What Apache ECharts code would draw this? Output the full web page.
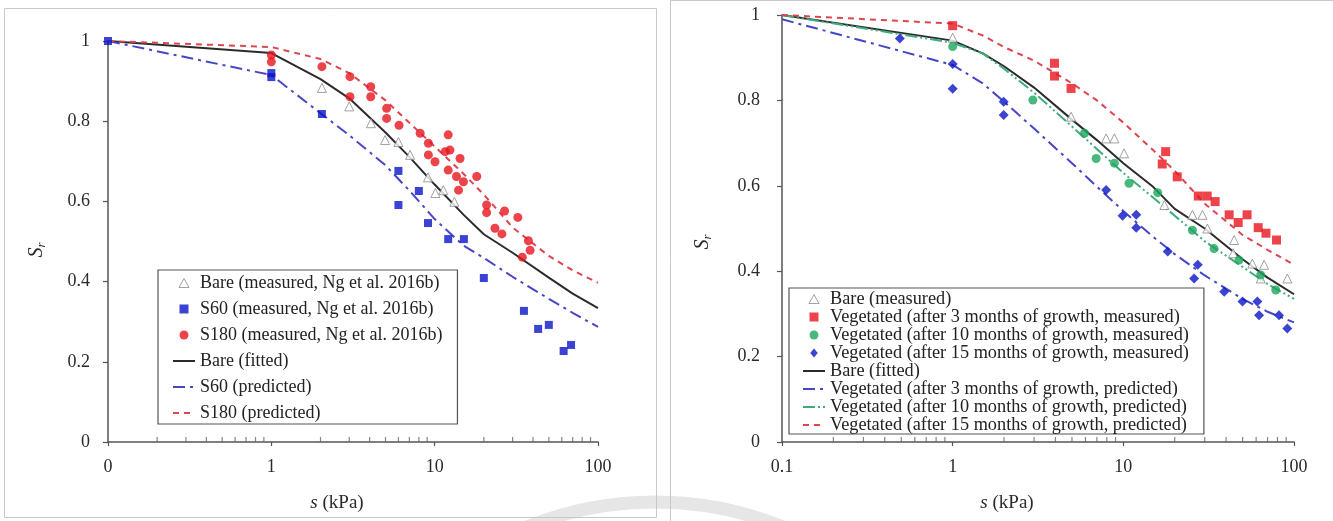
<!DOCTYPE html>
<html><head><meta charset="utf-8">
<script src="https://cdn.jsdelivr.net/npm/echarts/dist/echarts.min.js"></script>
<style>html,body{margin:0;padding:0;background:#fff}#c{width:1333px;height:521px}</style>
</head><body><div id="c"></div>
<script>
// ---------- LEFT PANEL DATA ----------
const L_LINE_S     = [0.1, 1, 2, 3, 5, 7, 10, 15, 20, 30, 50, 70, 100];
const L_BARE_FIT   = [1.0, 0.97, 0.905, 0.857, 0.772, 0.711, 0.642, 0.567, 0.518, 0.472, 0.41, 0.37, 0.334];
const L_S60_PRED   = [1.0, 0.915, 0.82, 0.765, 0.69, 0.627, 0.556, 0.49, 0.459, 0.412, 0.357, 0.322, 0.287];
const L_S180_PRED  = [1.0, 0.985, 0.955, 0.92, 0.852, 0.796, 0.737, 0.669, 0.617, 0.535, 0.464, 0.428, 0.397];

const L_BARE_S = [2.04, 3.0, 4.07, 4.97, 6.0, 7.07, 9.1, 10.1, 11.3, 13.2];
const L_BARE_V = [0.883, 0.837, 0.795, 0.753, 0.748, 0.716, 0.66, 0.621, 0.628, 0.599];

const L_S60_S = [0.1, 1, 1, 2.04, 6.0, 8.0, 6.0, 9.1, 12.1, 15.1, 20, 35.2, 43, 50, 61.6, 68.4];
const L_S60_V = [1.0, 0.92, 0.91, 0.818, 0.676, 0.626, 0.591, 0.546, 0.506, 0.506, 0.409, 0.327, 0.282, 0.292, 0.227, 0.242];

const L_S180_S = [1, 1, 2.04, 3.03, 3.03, 4.06, 4.06, 5.08, 5.08, 6.05, 8.15, 9.15, 12.1, 9.15, 10.05, 11.6, 12.4, 14.3, 12.1, 13.6, 15.0, 14.0, 18.1, 20.8, 20.8, 26.8, 32.3, 23.4, 25.8, 37.5, 38.4, 34.4];
const L_S180_V = [0.965, 0.948, 0.936, 0.911, 0.861, 0.886, 0.861, 0.832, 0.807, 0.790, 0.770, 0.745, 0.766, 0.716, 0.699, 0.724, 0.728, 0.707, 0.678, 0.662, 0.649, 0.628, 0.662, 0.591, 0.572, 0.576, 0.560, 0.533, 0.519, 0.502, 0.478, 0.461];

// ---------- RIGHT PANEL DATA ----------
const R_LINE_S    = [0.1, 1, 1.5, 2, 3, 5, 7, 10, 15, 20, 30, 50, 70, 100];
const R_BARE_FIT  = [1.0, 0.94, 0.91, 0.88, 0.83, 0.755, 0.707, 0.653, 0.597, 0.546, 0.50, 0.428, 0.385, 0.346];
const R_V3_PRED   = [0.99, 0.883, 0.84, 0.797, 0.734, 0.653, 0.598, 0.541, 0.48, 0.44, 0.39, 0.335, 0.305, 0.28];
const R_V10_PRED  = [1.0, 0.935, 0.91, 0.874, 0.818, 0.739, 0.686, 0.63, 0.572, 0.53, 0.47, 0.41, 0.37, 0.335];
const R_V15_PRED  = [1.0, 0.98, 0.952, 0.925, 0.893, 0.84, 0.8, 0.748, 0.683, 0.635, 0.558, 0.485, 0.45, 0.415];

const R_BARE_S = [1, 4.94, 7.93, 8.86, 10.1, 17.4, 25.4, 29.1, 31.1, 44.6, 44, 57, 66.8, 63.8, 91.4];
const R_BARE_V = [0.947, 0.762, 0.711, 0.711, 0.676, 0.555, 0.532, 0.532, 0.5, 0.473, 0.442, 0.418, 0.415, 0.383, 0.383];

const R_V3_S = [1, 3.95, 3.95, 4.94, 17.7, 16.9, 20.7, 27.5, 31, 34.5, 41.7, 47.1, 53.1, 61.7, 68.5, 79];
const R_V3_V = [0.975, 0.887, 0.857, 0.828, 0.680, 0.651, 0.621, 0.576, 0.576, 0.563, 0.532, 0.514, 0.532, 0.502, 0.489, 0.473];

const R_V10_S = [1, 2.95, 5.92, 6.93, 8.86, 10.8, 15.9, 25.4, 34, 47.6, 63.8, 78.2];
const R_V10_V = [0.926, 0.801, 0.723, 0.664, 0.653, 0.606, 0.584, 0.496, 0.453, 0.426, 0.391, 0.356];

const R_V15_S = [0.49, 1, 1, 1.99, 1.99, 7.93, 9.9, 11.9, 11.9, 18.2, 27.3, 26, 39, 49.9, 61, 62.4, 81.7, 91.4];
const R_V15_V = [0.945, 0.885, 0.827, 0.797, 0.766, 0.59, 0.53, 0.532, 0.502, 0.446, 0.415, 0.383, 0.352, 0.329, 0.329, 0.297, 0.297, 0.266];

// axis ticks
const Y_TICKS_INTERVAL = 0.2;
const MINOR_TICKS = [0.2,0.3,0.4,0.5,0.6,0.7,0.8,0.9,2,3,4,5,6,7,8,9,20,30,40,50,60,70,80,90];

// names
const L_NAMES = ['Bare (measured, Ng et al. 2016b)','S60 (measured, Ng et al. 2016b)','S180 (measured, Ng et al. 2016b)','Bare (fitted)','S60 (predicted)','S180 (predicted)'];
const R_NAMES = ['Bare (measured)','Vegetated (after 3 months of growth, measured)','Vegetated (after 10 months of growth, measured)','Vegetated (after 15 months of growth, measured)','Bare (fitted) ','Vegetated (after 3 months of growth, predicted)','Vegetated (after 10 months of growth, predicted)','Vegetated (after 15 months of growth, predicted)'];

// ---------- STYLE ----------
const FONT = "'Liberation Serif','Times New Roman',serif";
const C_RED = '#e8141e', C_BLUE = '#0a14c8', C_GREEN = '#1ba65c', C_TRI = '#8a8a8a';
const C_LBLUE = '#4646c8', C_LRED = '#dc4650', C_LGREEN = '#3cac78', C_BLACK = '#2b2b2b';
const ICON_TRI = 'path://M5,0L10,9L0,9Z';
const ICON_SQ = 'path://M0,0L10,0L10,10L0,10Z';
const ICON_CIR = 'path://M10,5A5,5,0,1,1,0,5A5,5,0,1,1,10,5Z';
const ICON_DIA = 'path://M5,0L10,6L5,12L0,6Z';
const zip = (xs, ys) => xs.map((x, i) => [x, ys[i]]);

const chart = echarts.init(document.getElementById('c'), null, {renderer: 'canvas'});

function xAxisDef(grid, zeroLabel) {
  return {
    type: 'log', logBase: 10, min: 0.1, max: 100, gridIndex: grid,
    axisLine: {show: true, onZero: false, lineStyle: {color: '#555', width: 1.5}},
    axisTick: {show: true, length: 4, lineStyle: {color: '#555', width: 1.2}},
    minorTick: {show: false},
    splitLine: {show: false},
    axisLabel: {fontFamily: FONT, fontSize: 18, color: '#2a2a2a', margin: 16,
      formatter: v => { const r = +(+v).toPrecision(6); return (zeroLabel && r === 0.1) ? '0' : String(r); }}
  };
}
function yAxisDef(grid, margin) {
  return {
    type: 'value', min: 0, max: 1, interval: Y_TICKS_INTERVAL, gridIndex: grid,
    axisLine: {show: true, lineStyle: {color: '#555', width: 1.5}},
    axisTick: {show: true, length: 5, lineStyle: {color: '#555', width: 1.2}},
    splitLine: {show: false},
    axisLabel: {fontFamily: FONT, fontSize: 18, color: '#2a2a2a', margin: margin}
  };
}
function lineSeries(name, xi, xs, ys, color, dash, width) {
  return {type: 'line', name, xAxisIndex: xi, yAxisIndex: xi, data: zip(xs, ys),
    symbol: 'none', smooth: false,
    lineStyle: {color, width: width || 2, type: dash}, itemStyle: {color}, z: 2};
}
function scatterSeries(name, xi, xs, ys, symbol, size, style) {
  return {type: 'scatter', name, xAxisIndex: xi, yAxisIndex: xi, data: zip(xs, ys),
    symbol, symbolSize: size, itemStyle: style, z: 3};
}
function minorTickSeries(xi) {
  return {type: 'scatter', name: '_minor' + xi, xAxisIndex: xi, yAxisIndex: xi,
    data: MINOR_TICKS.map(x => [x, 0]), symbol: 'rect', symbolSize: [1.2, 5],
    symbolOffset: [0, -2.5], itemStyle: {color: '#666'}, silent: true, z: 1};
}
function legendDef(left, top, items, padding, fontSize, lineHeight, gap) {
  return {
    left, top, orient: 'vertical', data: items, selectedMode: false,
    itemWidth: 22, itemHeight: 9, itemGap: gap, padding, symbolKeepAspect: true,
    borderColor: '#555', borderWidth: 1.2, backgroundColor: '#fff', borderRadius: 0,
    textStyle: {fontFamily: FONT, fontSize, color: '#222', lineHeight}
  };
}
const triStyle = {color: '#fff', borderColor: C_TRI, borderWidth: 1};
const lineItem = name => ({name, itemStyle: {opacity: 0}});

const L_LEGEND = [
  {name: L_NAMES[0], icon: ICON_TRI, itemStyle: triStyle},
  {name: L_NAMES[1], icon: ICON_SQ, itemStyle: {color: C_BLUE, borderWidth: 0}},
  {name: L_NAMES[2], icon: ICON_CIR, itemStyle: {color: C_RED, borderWidth: 0}},
  lineItem(L_NAMES[3]), lineItem(L_NAMES[4]), lineItem(L_NAMES[5])
];
const R_LEGEND = [
  {name: R_NAMES[0], icon: ICON_TRI, itemStyle: triStyle},
  {name: R_NAMES[1], icon: ICON_SQ, itemStyle: {color: C_RED, borderWidth: 0}},
  {name: R_NAMES[2], icon: ICON_CIR, itemStyle: {color: C_GREEN, borderWidth: 0}},
  {name: R_NAMES[3], icon: ICON_DIA, itemStyle: {color: C_BLUE, borderWidth: 0}},
  lineItem(R_NAMES[4]), lineItem(R_NAMES[5]), lineItem(R_NAMES[6]), lineItem(R_NAMES[7])
];

const option = {
  animation: false,
  backgroundColor: '#fff',
  grid: [
    {left: 108, top: 41, width: 490, height: 401},
    {left: 782, top: 15, width: 512, height: 427}
  ],
  xAxis: [xAxisDef(0, true), xAxisDef(1, false)],
  yAxis: [yAxisDef(0, 18), yAxisDef(1, 22)],
  legend: [
    legendDef(158, 270, L_LEGEND, [3, 15, 1, 14], 18, 20, 6),
    legendDef(789, 288, R_LEGEND, [2, 15, 0, 13], 18.3, 18, 0)
  ],
  series: [
    minorTickSeries(0), minorTickSeries(1),
    // left lines
    lineSeries(L_NAMES[3], 0, L_LINE_S, L_BARE_FIT, C_BLACK, 'solid', 2),
    lineSeries(L_NAMES[4], 0, L_LINE_S, L_S60_PRED, C_LBLUE, [12, 5, 3, 5], 2),
    lineSeries(L_NAMES[5], 0, L_LINE_S, L_S180_PRED, C_LRED, [6, 5], 2),
    // left points
    scatterSeries(L_NAMES[0], 0, L_BARE_S, L_BARE_V, 'triangle', 9, triStyle),
    scatterSeries(L_NAMES[1], 0, L_S60_S, L_S60_V, 'rect', 8, {color: C_BLUE}),
    scatterSeries(L_NAMES[2], 0, L_S180_S, L_S180_V, 'circle', 9, {color: C_RED}),
    // right lines
    lineSeries(R_NAMES[4], 1, R_LINE_S, R_BARE_FIT, C_BLACK, 'solid', 2),
    lineSeries(R_NAMES[5], 1, R_LINE_S, R_V3_PRED, C_LBLUE, [12, 5, 3, 5], 2),
    lineSeries(R_NAMES[6], 1, R_LINE_S, R_V10_PRED, C_LGREEN, [12, 3, 2, 3, 2, 3], 2),
    lineSeries(R_NAMES[7], 1, R_LINE_S, R_V15_PRED, C_LRED, [6, 5], 2),
    // right points
    scatterSeries(R_NAMES[0], 1, R_BARE_S, R_BARE_V, 'triangle', 9, triStyle),
    scatterSeries(R_NAMES[1], 1, R_V3_S, R_V3_V, 'rect', 9, {color: C_RED}),
    scatterSeries(R_NAMES[2], 1, R_V10_S, R_V10_V, 'circle', 9, {color: C_GREEN}),
    scatterSeries(R_NAMES[3], 1, R_V15_S, R_V15_V, 'diamond', 10, {color: C_BLUE})
  ],
  graphic: [
    {type: 'circle', z: -10, silent: true, shape: {cx: 655, cy: 842, r: 340},
      style: {fill: 'none', stroke: '#e6e6e6', lineWidth: 13}},
    {type: 'rect', z: -5, silent: true, shape: {x: 4.5, y: 8.5, width: 652, height: 509},
      style: {fill: 'none', stroke: '#c8c8c8', lineWidth: 1}},
    {type: 'rect', z: -5, silent: true, shape: {x: 670.5, y: 0.5, width: 700, height: 560},
      style: {fill: 'none', stroke: '#c8c8c8', lineWidth: 1}},
    {type: 'text', x: 337, y: 503, silent: true,
      style: {text: '{i|s} (kPa)', fontFamily: FONT, fontSize: 19, fill: '#2a2a2a', align: 'center', verticalAlign: 'middle',
        rich: {i: {fontFamily: FONT, fontSize: 19, fontStyle: 'italic', fill: '#2a2a2a'}}}},
    {type: 'text', x: 1007, y: 503, silent: true,
      style: {text: '{i|s} (kPa)', fontFamily: FONT, fontSize: 19, fill: '#2a2a2a', align: 'center', verticalAlign: 'middle',
        rich: {i: {fontFamily: FONT, fontSize: 19, fontStyle: 'italic', fill: '#2a2a2a'}}}},
    {type: 'text', x: 37, y: 250, rotation: Math.PI / 2, silent: true,
      style: {text: '{a|S}{b|r}', align: 'center', verticalAlign: 'middle',
        rich: {a: {fontFamily: FONT, fontSize: 20, fontStyle: 'italic', fill: '#2a2a2a'},
               b: {fontFamily: FONT, fontSize: 13, fontStyle: 'italic', fill: '#2a2a2a', padding: [9, 0, 0, 0]}}}},
    {type: 'text', x: 703, y: 242, rotation: Math.PI / 2, silent: true,
      style: {text: '{a|S}{b|r}', align: 'center', verticalAlign: 'middle',
        rich: {a: {fontFamily: FONT, fontSize: 20, fontStyle: 'italic', fill: '#2a2a2a'},
               b: {fontFamily: FONT, fontSize: 13, fontStyle: 'italic', fill: '#2a2a2a', padding: [9, 0, 0, 0]}}}}
  ]
};
chart.setOption(option);
</script>
</body></html>
